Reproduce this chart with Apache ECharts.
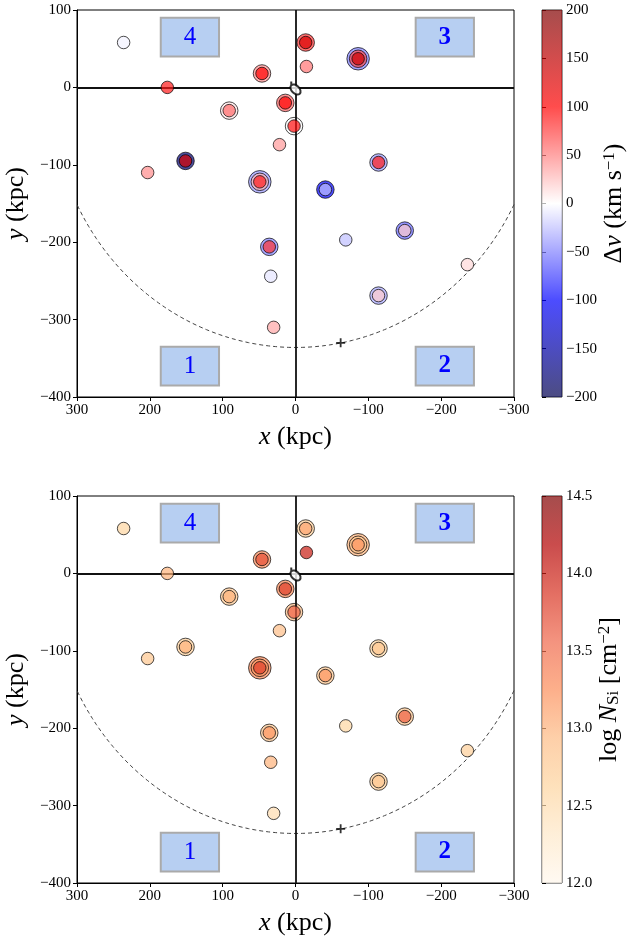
<!DOCTYPE html>
<html>
<head>
<meta charset="utf-8">
<script src="https://cdn.jsdelivr.net/npm/echarts@6/dist/echarts.min.js"></script>
<style>
  html, body { margin: 0; padding: 0; background: #fff; }
  #chart { width: 633px; height: 938px; }
</style>
</head>
<body>
<div id="chart"></div>
<script>
// sightline positions (kpc)
var sightX = [236, 176, 91, 46, 14, 2, 22, 151, 203, 49, -14, -15, -86, -41, -114, 36, 34, 30, -69, -150, -236, -114];
var sightY = [58, 0, -30, 18, -20, -50, -74, -95, -110, -122, 58, 27, 37, -132, -97, -206, -244, -310, -197, -185, -229, -269];
// velocity offset per component (km/s), outer ring first
var dvComp = [[-5], [90], [10, 60], [45, 100], [60, 100], [0, 95], [40], [-180, 130], [45], [-40, 30, 90],
  [80, 130], [55], [-50, 70, 140], [-100, -25], [-40, 90], [-50, 80], [-10], [35], [-25], [-60, 20], [15], [-35, 20]];
// log N(Si) per component, outer ring first
var nComp = [[12.6], [13.0], [12.8, 13.0], [13.3, 13.7], [13.3, 13.8], [12.9, 13.6], [12.9], [12.7, 13.0], [12.8], [13.3, 13.2, 13.8],
  [12.7, 13.1], [14.0], [13.0, 12.8, 13.2], [12.8, 13.2], [12.6, 12.8], [12.8, 13.2], [13.0], [12.5], [12.6], [12.8, 13.6], [12.7], [12.7, 12.8]];

var haloR = 336;
var m31 = [-62, -330];
var boxLabels = ['4', '3', '1', '2'];
var boxX = [[105, 185], [-245, -165], [105, 185], [-245, -165]];
var boxY = [[40, 90], [40, 90], [-385, -335], [-385, -335]];
var boxBold = [false, true, false, true];

var seismic = ['#00004d', '#0000ff', '#ffffff', '#ff0000', '#800000'];
var orrd = ['#fff7ec', '#fee8c8', '#fdd49e', '#fdbb84', '#fc8d59', '#ef6548', '#d7301f', '#b30000', '#7f0000'];

var FONT = 'Liberation Serif';
var ringSize = [12.5, 17.5, 22.5];
// tilted disc symbol for the Milky Way
var mwSymbol = 'path://M0,0A7.07,2.4,45,1,1,10,10A7.07,2.4,45,1,1,0,0Z';

var chart = echarts.init(document.getElementById('chart'));

function minus(v) { return String(v).replace('-', '\u2212'); }

var nameStyle = {
  fontFamily: FONT, fontSize: 26, color: '#000',
  rich: {
    i: { fontFamily: FONT, fontSize: 26, fontStyle: 'italic', color: '#000' },
    sup: { fontFamily: FONT, fontSize: 17, verticalAlign: 'top', color: '#000' },
    sub: { fontFamily: FONT, fontSize: 17, verticalAlign: 'bottom', color: '#000' }
  }
};

var grids = [], xAxes = [], yAxes = [], series = [], visualMaps = [];

function addPanel(top, comps, vmin, vmax, colors, cbInterval, cbFmt, cbName) {
  var g = grids.length;
  grids.push({ left: 77, top: top, width: 437, height: 387, show: true, borderColor: '#000', borderWidth: 1,
    containLabel: false, outerBoundsMode: 'none' });
  grids.push({ left: 542, top: top, width: 20, height: 387, show: true, borderColor: '#333', borderWidth: 1,
    containLabel: false, outerBoundsMode: 'none' });
  xAxes.push({
    gridIndex: g, type: 'value', min: -300, max: 300, interval: 100, inverse: true,
    axisLine: { show: true, onZero: false, lineStyle: { color: '#000', width: 1 } },
    axisTick: { show: true, length: 4, lineStyle: { color: '#000' } },
    axisLabel: { fontFamily: FONT, fontSize: 15, color: '#000', margin: 6, formatter: minus },
    splitLine: { show: false },
    name: '{i|x} (kpc)', nameLocation: 'middle', nameGap: 27, nameTextStyle: nameStyle
  });
  yAxes.push({
    gridIndex: g, type: 'value', min: -400, max: 100, interval: 100,
    axisLine: { show: true, onZero: false, lineStyle: { color: '#000', width: 1 } },
    axisTick: { show: true, length: 4, lineStyle: { color: '#000' } },
    axisLabel: { fontFamily: FONT, fontSize: 15, color: '#000', margin: 6, formatter: minus },
    splitLine: { show: false },
    name: '{i|y} (kpc)', nameLocation: 'middle', nameGap: 34, nameRotate: 90, nameTextStyle: nameStyle
  });
  xAxes.push({ gridIndex: g + 1, type: 'value', min: 0, max: 1, show: false });
  yAxes.push({
    gridIndex: g + 1, type: 'value', position: 'right', min: vmin, max: vmax, interval: cbInterval,
    axisLine: { show: false },
    axisTick: { show: true, length: 4, lineStyle: { color: '#000' } },
    axisLabel: { fontFamily: FONT, fontSize: 15, color: '#000', margin: 4, formatter: cbFmt },
    splitLine: { show: false },
    name: cbName, nameLocation: 'middle', nameGap: 31, nameRotate: 90, nameTextStyle: nameStyle
  });

  var xi = g, yi = g;
  // halo circle, crosshair and quadrant boxes
  series.push({
    type: 'custom', xAxisIndex: xi, yAxisIndex: yi, z: 1, silent: true,
    data: [[0, 0]],
    renderItem: function (params, api) {
      var a = Math.asin(300 / haloR), pts = [];
      for (var i = 0; i <= 160; i++) {
        var t = -a + 2 * a * i / 160;
        pts.push(api.coord([haloR * Math.sin(t), -haloR * Math.cos(t)]));
      }
      return { type: 'polyline', shape: { points: pts },
        style: { stroke: '#444', fill: null, lineWidth: 1, lineDash: [4, 3] } };
    },
    markLine: {
      silent: true, symbol: 'none', animation: false,
      label: { show: false },
      lineStyle: { color: '#111', width: 1.8, type: 'solid' },
      data: [{ xAxis: 0 }, { yAxis: 0 }]
    },
    markArea: {
      silent: true,
      itemStyle: { color: '#b7cff2', borderColor: '#aaaaaa', borderWidth: 2 },
      label: { show: true, position: 'inside', fontFamily: FONT, fontSize: 25, color: '#0000ff' },
      data: boxLabels.map(function (b, k) {
        return [{ name: b, xAxis: boxX[k][0], yAxis: boxY[k][0],
          label: { fontWeight: boxBold[k] ? 'bold' : 'normal' } },
          { xAxis: boxX[k][1], yAxis: boxY[k][1] }];
      })
    }
  });

  // rings: draw outer levels first
  var ringSeries = [];
  for (var L = 2; L >= 0; L--) {
    var data = [];
    for (var s = 0; s < sightX.length; s++) {
      var c = comps[s];
      for (var k = 0; k < c.length; k++) {
        if (c.length - 1 - k === L) data.push([sightX[s], sightY[s], c[k]]);
      }
    }
    ringSeries.push(series.length);
    series.push({
      type: 'scatter', xAxisIndex: xi, yAxisIndex: yi, z: 3 + (2 - L),
      symbol: 'circle', symbolSize: ringSize[L],
      itemStyle: { opacity: 0.7, borderColor: '#000', borderWidth: 1 },
      data: data
    });
  }

  // Milky Way disc and M31
  series.push({
    type: 'scatter', xAxisIndex: xi, yAxisIndex: yi, z: 8,
    symbol: mwSymbol, symbolSize: 12,
    itemStyle: { color: '#fff', borderColor: '#000', borderWidth: 2 },
    data: [[0, 0]]
  });
  series.push({
    type: 'scatter', xAxisIndex: xi, yAxisIndex: yi, z: 8,
    symbol: 'path://M4,0H6V4H10V6H6V10H4V6H0V4H4Z', symbolSize: 9,
    itemStyle: { color: '#000' },
    data: [m31]
  });

  // colorbar
  series.push({
    type: 'custom', xAxisIndex: g + 1, yAxisIndex: g + 1, silent: true,
    data: [[0, vmin]],
    renderItem: function (params, api) {
      var p0 = api.coord([0, vmax]), p1 = api.coord([1, vmin]);
      var stops = colors.slice().reverse().map(function (col, i, arr) {
        return { offset: i / (arr.length - 1), color: col };
      });
      return { type: 'rect',
        shape: { x: p0[0], y: p0[1], width: p1[0] - p0[0], height: p1[1] - p0[1] },
        style: { fill: new echarts.graphic.LinearGradient(0, 0, 0, 1, stops), opacity: 0.7 } };
    }
  });

  visualMaps.push({
    type: 'continuous', show: false, min: vmin, max: vmax, dimension: 2,
    seriesIndex: ringSeries, inRange: { color: colors }
  });
}

addPanel(10, dvComp, -200, 200, seismic, 50, minus, '\u0394{i|v} (km s{sup|\u22121})');
addPanel(496, nComp, 12, 14.5, orrd, 0.5, function (v) { return v.toFixed(1); }, 'log {i|N}{sub|Si} [cm{sup|\u22122}]');

chart.setOption({
  animation: false,
  backgroundColor: '#fff',
  grid: grids,
  xAxis: xAxes,
  yAxis: yAxes,
  visualMap: visualMaps,
  series: series
});
</script>
</body>
</html>
